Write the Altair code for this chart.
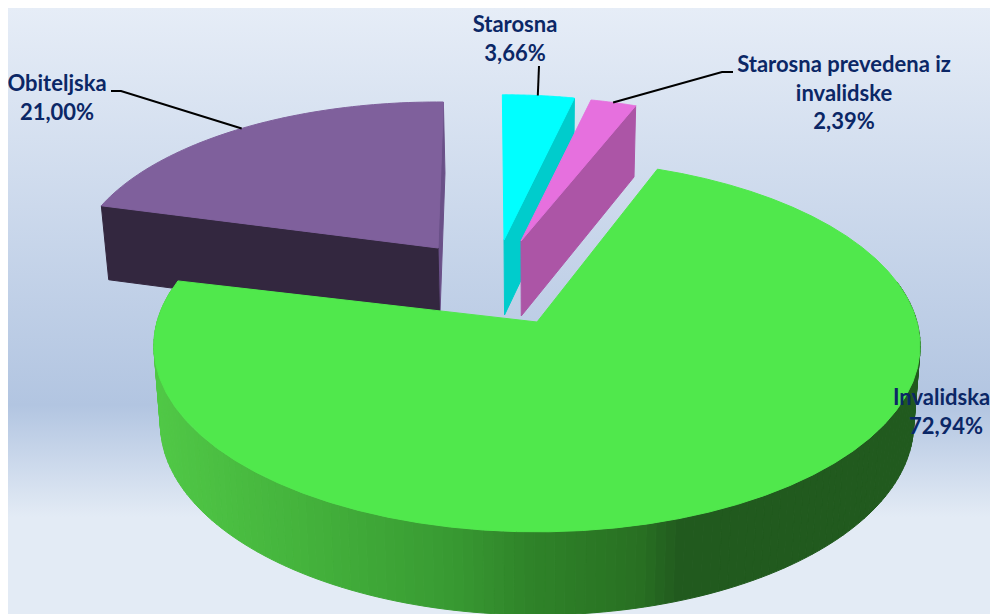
import math
import altair as alt
import pandas as pd

names = ["Starosna", "Starosna prevedena iz\ninvalidske", "Invalidska", "Obiteljska"]
shares = [3.66, 2.39, 72.94, 21.00]
shares_txt = ["3,66%", "2,39%", "72,94%", "21,00%"]

W, H = 998, 614
RX, RY, P = 380.0, 183.0, 0.128
VX = 537.0

# per-slice explode: apex x, apex y, x scale, y scale, rotation in degrees
slice_pose = {
    0: (504, 240, 0.935, 0.895, -0.3),
    1: (521, 241, 0.91, 0.89, 0.0),
    2: (537, 322, 1.00, 1.00, -1.0),
    3: (438, 248, 0.95, 0.90, 1.0),
}
top_c = ["#00FFFF", "#E670DE", "#50E84C", "#7F609C"]
wall_c = ["#00CCCC", "#AC55A6", "#3DA838", "#33273F"]
edge_purple = "#6A5088"
green_stops = [(155, (80, 200, 70)), (300, (68, 179, 60)), (450, (56, 154, 50)),
               (530, (47, 131, 41)), (640, (40, 112, 34)), (680, (33, 90, 30)), (920, (33, 90, 30))]

angles = []
acc = 0.0
for s in shares:
    angles.append((acc * 3.6, (acc + s) * 3.6))
    acc += s


def top_pt(i, deg):
    ax, ay, sx, sy, rot = slice_pose[i]
    t = math.radians(deg + rot)
    d = 1 + P * math.cos(t)
    return ax + sx * RX * math.sin(t) / d, ay - sy * RY * math.cos(t) / d


def drop(pt):
    x, y = pt
    depth = 71 + (y - 100) * 0.028
    return VX + (x - VX) * 0.983, y + depth


def green_col(x):
    for (x0, c0), (x1, c1) in zip(green_stops, green_stops[1:]):
        if x <= x1:
            f = max(0.0, (x - x0) / (x1 - x0))
            c = [round(a + (b - a) * f) for a, b in zip(c0, c1)]
            return "#%02x%02x%02x" % tuple(c)
    return "#215a1e"


rows = []
pid = [0]


def poly(pts, col):
    pid[0] += 1
    for k, (x, y) in enumerate(list(pts) + [pts[0]]):
        rows.append(dict(poly=pid[0], k=k, x=x, y=y, c=col))


def arc(i, a, b, n=60):
    return [top_pt(i, a + (b - a) * j / n) for j in range(n + 1)]


def sector(i):
    a, b = angles[i]
    apex = slice_pose[i][:2]
    return [apex] + arc(i, a, b)


def radial_wall(i, deg, col):
    apex = slice_pose[i][:2]
    c = top_pt(i, deg)
    poly([c, apex, drop(apex), drop(c)], col)


# purple
a, b = angles[3]
radial_wall(3, b, edge_purple)
radial_wall(3, a, wall_c[3])
poly(sector(3), top_c[3])
# cyan
a, b = angles[0]
radial_wall(0, b, wall_c[0])
poly(sector(0), top_c[0])
# magenta
a, b = angles[1]
radial_wall(1, b, wall_c[1])
poly(sector(1), top_c[1])
# green rim, then top
a, b = angles[2]
N = 150
lo, hi = 78.0, 282.0
for j in range(N):
    d0 = lo + (hi - lo) * j / N
    d1 = lo + (hi - lo) * (j + 1) / N
    p0, p1 = top_pt(2, d0), top_pt(2, d1)
    poly([p0, p1, drop(p1), drop(p0)], green_col((p0[0] + p1[0]) / 2))
poly(sector(2), top_c[2])

df = pd.DataFrame(rows)

# leader lines run from a label anchor to the slice's outer edge
label_at = {
    0: dict(x=[515, 515], y=32, bend=[(539, 66)]),
    1: dict(x=[844, 844, 844], y=72, bend=[(733, 72), (722, 72)]),
    2: dict(x=[941.5, 946], y=405, bend=[]),
    3: dict(x=[57, 57], y=91, bend=[(111, 91), (121, 91)]),
}
leader_end = {0: 49.0, 1: 49.0, 3: 50.0}  # percent along each slice's arc
lead = []
for i, info in label_at.items():
    if not info["bend"]:
        continue
    a, b = angles[i]
    end = top_pt(i, a + (b - a) * leader_end[i] / 100)
    for k, (x, y) in enumerate(info["bend"] + [end]):
        lead.append(dict(line=i, k=k, x=x, y=y))
lead_df = pd.DataFrame(lead)

LINE = 28.7
text_rows = []
for i, info in label_at.items():
    lines = names[i].split("\n") + [shares_txt[i]]
    for n, t in enumerate(lines):
        text_rows.append(dict(x=info["x"][n], y=info["y"] + n * LINE, t=t))
text_df = pd.DataFrame(text_rows)

PW, PH = W - 16, H - 8
xs = alt.Scale(domain=[8, 8 + PW], range=[0, PW])
ys = alt.Scale(domain=[8, 8 + PH], range=[0, PH])
X = lambda: alt.X("x:Q", scale=xs, axis=None)
Y = lambda: alt.Y("y:Q", scale=ys, axis=None)

bg = alt.Chart(alt.Data(values=[{"a": 1}])).mark_rect(
    color=alt.LinearGradient(
        gradient="linear", x1=0, x2=0, y1=0, y2=1,
        stops=[alt.GradientStop(color="#E6EDF7", offset=0),
               alt.GradientStop(color="#B2C5E1", offset=0.655),
               alt.GradientStop(color="#E3EBF5", offset=0.84),
               alt.GradientStop(color="#E3EBF5", offset=1)])
).encode(x=alt.value(0), x2=alt.value(PW), y=alt.value(0), y2=alt.value(PH))

pie = alt.Chart(df).mark_line(strokeWidth=1, interpolate="linear").encode(
    x=X(), y=Y(), order="k:Q", detail="poly:N",
    fill=alt.Fill("c:N", scale=None), stroke=alt.Stroke("c:N", scale=None))

leaders = alt.Chart(lead_df).mark_line(color="#000000", strokeWidth=2).encode(
    x=X(), y=Y(), order="k:Q", detail="line:N")

labels = alt.Chart(text_df).mark_text(
    font="Lato", fontWeight="bold", fontSize=22, color="#0B2766",
    align="center", baseline="alphabetic").encode(x=X(), y=Y(), text="t:N")

chart = alt.layer(bg, pie, leaders, labels).properties(
    width=PW, height=PH, padding=0, autosize=alt.AutoSizeParams(type="none"),
).configure_view(stroke=None)

chart.save("out.html", embed_options={"renderer": "svg", "actions": False})
